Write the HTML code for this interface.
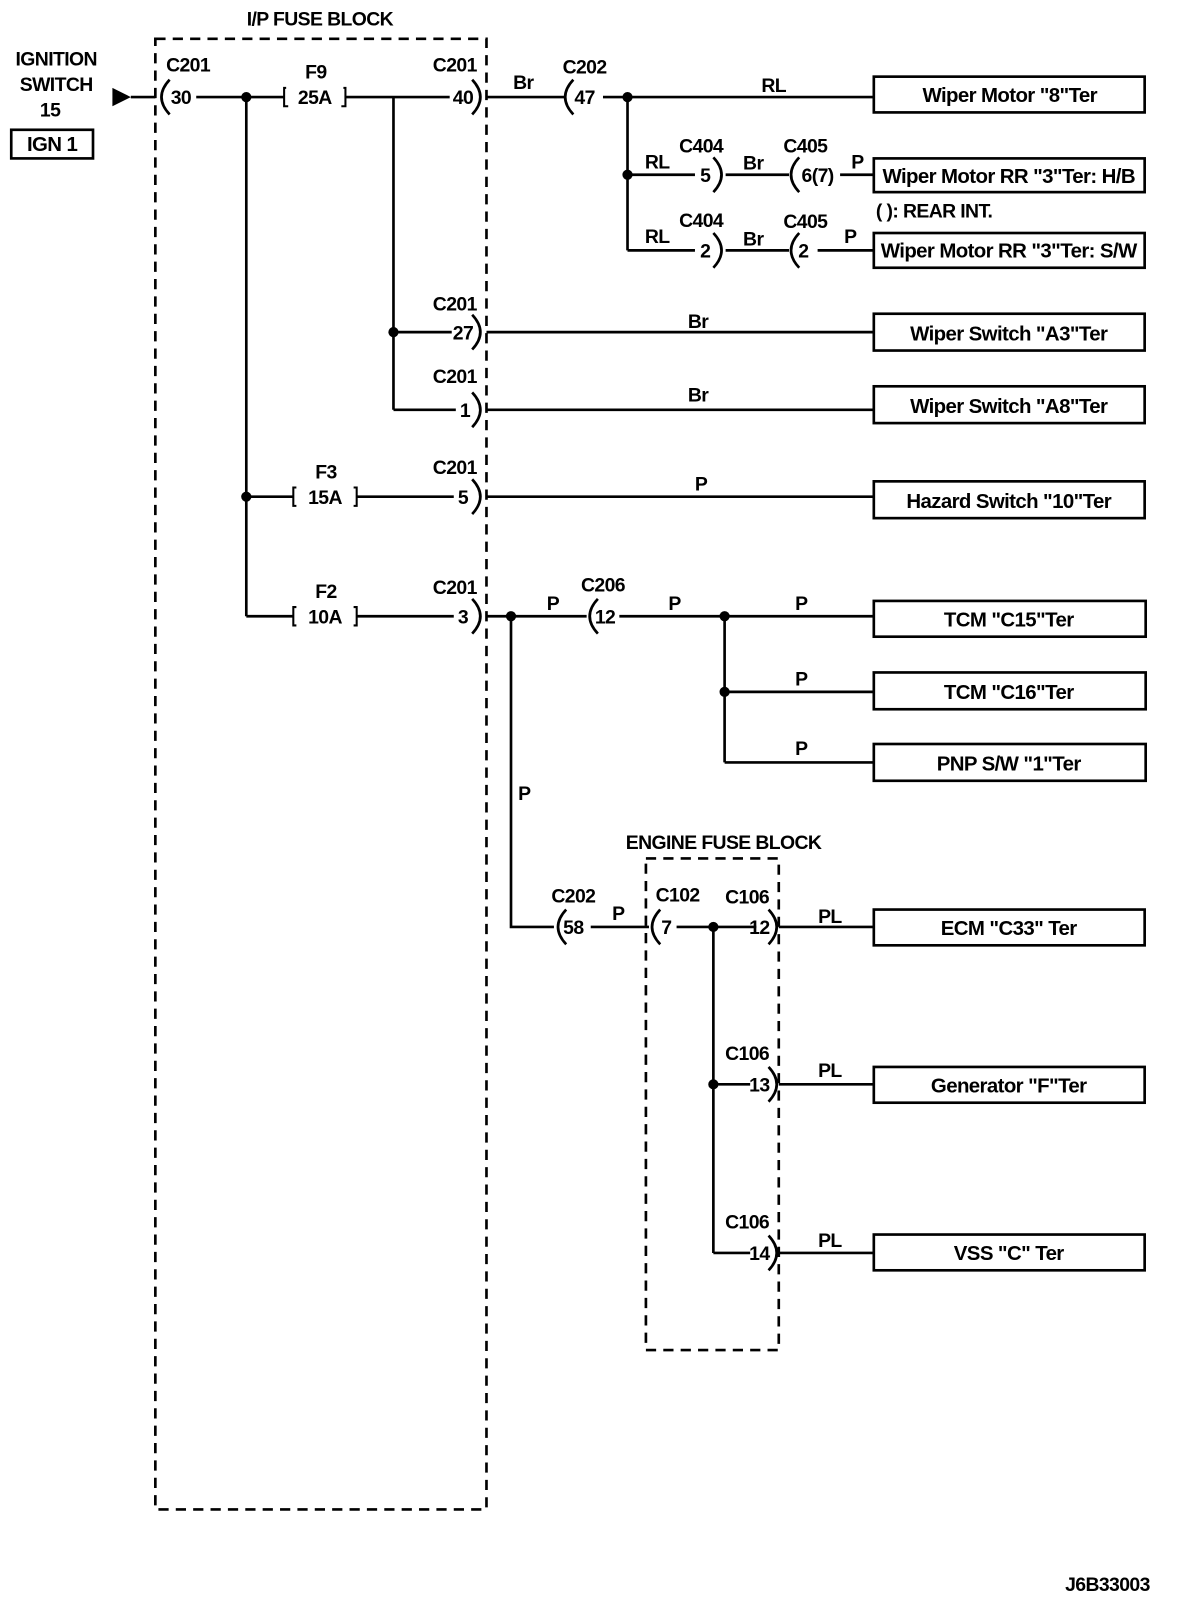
<!DOCTYPE html>
<html><head><meta charset="utf-8"><style>
html,body{margin:0;padding:0;background:#fff;}
svg{display:block;}
text{font-family:"Liberation Sans",Arial,sans-serif;font-size:19px;fill:#000;font-weight:bold;letter-spacing:-0.6px;}
.m{text-anchor:middle;}
.bx{font-size:20px;text-anchor:middle;}
</style></head><body>
<svg width="1184" height="1600" viewBox="0 0 1158.5 1565.6" preserveAspectRatio="none" xmlns="http://www.w3.org/2000/svg">
<g fill="none" stroke="#000" stroke-width="2.6">
<rect x="152" y="38" width="324" height="1439" stroke-dasharray="10,7"/>
<rect x="632" y="840" width="130" height="481" stroke-dasharray="10,7"/>
<rect x="11" y="127" width="80" height="28"/>
<path d="M128 95H152 M192 95H278 M338 95H440 M476 95H553 M590 95H855"/>
<path d="M280 86H278V104H282 M336 86H338V104H334" stroke-width="2"/>
<path d="M614 95V245 M614 171H680 M710 171H772 M822 171H855 M614 245H680 M710 245H772 M800 245H855"/>
<path d="M385 95V401 M385 325H442 M476 325H855 M385 401H446 M476 401H855"/>
<path d="M241 95V603 M241 486H287 M349 486H444 M476 486H855 M241 603H287 M349 603H444 M476 603H574 M606 603H855"/>
<path d="M290 477H287V495H290 M346 477H349V495H346" stroke-width="2"/>
<path d="M290 594H287V612H290 M346 594H349V612H346" stroke-width="2"/>
<path d="M709 603V746 M709 677H855 M709 746H855"/>
<path d="M500 603V907H542 M578 907H635 M662 907H740 M762 907H855"/>
<path d="M698 907V1226 M698 1061H734 M762 1061H855 M698 1226H734 M762 1226H855"/>
<path d="M166 78Q150 95 166 112"/>
<path d="M561 78Q545 95 561 112"/>
<path d="M782 154Q766 171 782 188"/>
<path d="M782 228Q766 245 782 262"/>
<path d="M585 586Q569 603 585 620"/>
<path d="M554 890Q538 907 554 924"/>
<path d="M646 890Q630 907 646 924"/>
<path d="M462 78Q478 95 462 112"/>
<path d="M462 308Q478 325 462 342"/>
<path d="M462 384Q478 401 462 418"/>
<path d="M462 469Q478 486 462 503"/>
<path d="M462 586Q478 603 462 620"/>
<path d="M698 154Q714 171 698 188"/>
<path d="M698 228Q714 245 698 262"/>
<path d="M752 890Q768 907 752 924"/>
<path d="M752 1044Q768 1061 752 1078"/>
<path d="M752 1209Q768 1226 752 1243"/>
<rect x="855" y="75" width="265" height="35"/>
<rect x="855" y="155" width="265" height="33"/>
<rect x="855" y="228" width="265" height="34"/>
<rect x="855" y="307" width="265" height="36"/>
<rect x="855" y="378" width="265" height="36"/>
<rect x="855" y="471" width="265" height="36"/>
<rect x="855" y="588" width="266" height="35"/>
<rect x="855" y="658" width="266" height="36"/>
<rect x="855" y="728" width="266" height="36"/>
<rect x="855" y="890" width="265" height="35"/>
<rect x="855" y="1044" width="265" height="35"/>
<rect x="855" y="1208" width="265" height="35"/>
</g>
<polygon points="110,86 128,95 110,104" fill="#000"/>
<g fill="#000">
<circle cx="241" cy="95" r="5"/><circle cx="614" cy="95" r="5"/><circle cx="614" cy="171" r="5"/>
<circle cx="385" cy="325" r="5"/><circle cx="241" cy="486" r="5"/><circle cx="500" cy="603" r="5"/>
<circle cx="709" cy="603" r="5"/><circle cx="709" cy="677" r="5"/><circle cx="698" cy="907" r="5"/>
<circle cx="698" cy="1061" r="5"/>
</g>
<text x="313" y="25" class="m">I/P FUSE BLOCK</text>
<text x="708" y="831" class="m">ENGINE FUSE BLOCK</text>
<text x="55" y="64" class="m">IGNITION</text>
<text x="55" y="89" class="m">SWITCH</text>
<text x="49" y="114" class="m">15</text>
<text x="51" y="148" class="m" style="font-size:20px">IGN 1</text>
<g>
<text x="184" y="70" class="m">C201</text><text x="177" y="102" class="m">30</text>
<text x="309" y="77" class="m">F9</text><text x="308" y="102" class="m">25A</text>
<text x="445" y="70" class="m">C201</text><text x="453" y="102" class="m">40</text>
<text x="512" y="87" class="m">Br</text>
<text x="572" y="72" class="m">C202</text><text x="572" y="102" class="m">47</text>
<text x="757" y="90" class="m">RL</text>
<text x="643" y="165" class="m">RL</text><text x="686" y="149" class="m">C404</text><text x="690" y="178" class="m">5</text>
<text x="737" y="166" class="m">Br</text><text x="788" y="149" class="m">C405</text><text x="800" y="178" class="m">6(7)</text>
<text x="839" y="165" class="m">P</text>
<text x="643" y="238" class="m">RL</text><text x="686" y="222" class="m">C404</text><text x="690" y="252" class="m">2</text>
<text x="737" y="240" class="m">Br</text><text x="788" y="223" class="m">C405</text><text x="786" y="252" class="m">2</text>
<text x="832" y="238" class="m">P</text>
<text x="445" y="304" class="m">C201</text><text x="453" y="332" class="m">27</text>
<text x="683" y="321" class="m">Br</text>
<text x="445" y="375" class="m">C201</text><text x="455" y="408" class="m">1</text>
<text x="683" y="393" class="m">Br</text>
<text x="319" y="468" class="m">F3</text><text x="318" y="493" class="m">15A</text>
<text x="445" y="464" class="m">C201</text><text x="453" y="493" class="m">5</text>
<text x="686" y="480" class="m">P</text>
<text x="319" y="585" class="m">F2</text><text x="318" y="610" class="m">10A</text>
<text x="445" y="581" class="m">C201</text><text x="453" y="610" class="m">3</text>
<text x="541" y="597" class="m">P</text><text x="590" y="579" class="m">C206</text><text x="592" y="610" class="m">12</text>
<text x="660" y="597" class="m">P</text><text x="784" y="597" class="m">P</text>
<text x="784" y="671" class="m">P</text><text x="784" y="739" class="m">P</text>
<text x="513" y="783" class="m">P</text>
<text x="561" y="883" class="m">C202</text><text x="561" y="914" class="m">58</text>
<text x="605" y="900" class="m">P</text>
<text x="663" y="882" class="m">C102</text><text x="652" y="914" class="m">7</text>
<text x="731" y="884" class="m">C106</text><text x="743" y="914" class="m">12</text>
<text x="812" y="903" class="m">PL</text>
<text x="731" y="1037" class="m">C106</text><text x="743" y="1068" class="m">13</text>
<text x="812" y="1054" class="m">PL</text>
<text x="731" y="1202" class="m">C106</text><text x="743" y="1233" class="m">14</text>
<text x="812" y="1220" class="m">PL</text>
</g>
<text x="857" y="213">( ): REAR INT.</text>
<text x="988" y="100" class="bx">Wiper Motor "8"Ter</text>
<text x="987" y="179" class="bx">Wiper Motor RR "3"Ter: H/B</text>
<text x="987" y="252" class="bx">Wiper Motor RR "3"Ter: S/W</text>
<text x="987" y="333" class="bx">Wiper Switch "A3"Ter</text>
<text x="987" y="404" class="bx">Wiper Switch "A8"Ter</text>
<text x="987" y="497" class="bx">Hazard Switch "10"Ter</text>
<text x="987" y="613" class="bx">TCM "C15"Ter</text>
<text x="987" y="684" class="bx">TCM "C16"Ter</text>
<text x="987" y="754" class="bx">PNP S/W "1"Ter</text>
<text x="987" y="915" class="bx">ECM "C33" Ter</text>
<text x="987" y="1069" class="bx">Generator "F"Ter</text>
<text x="987" y="1233" class="bx">VSS "C" Ter</text>
<text x="1125" y="1557" style="text-anchor:end">J6B33003</text>
</svg>
</body></html>
